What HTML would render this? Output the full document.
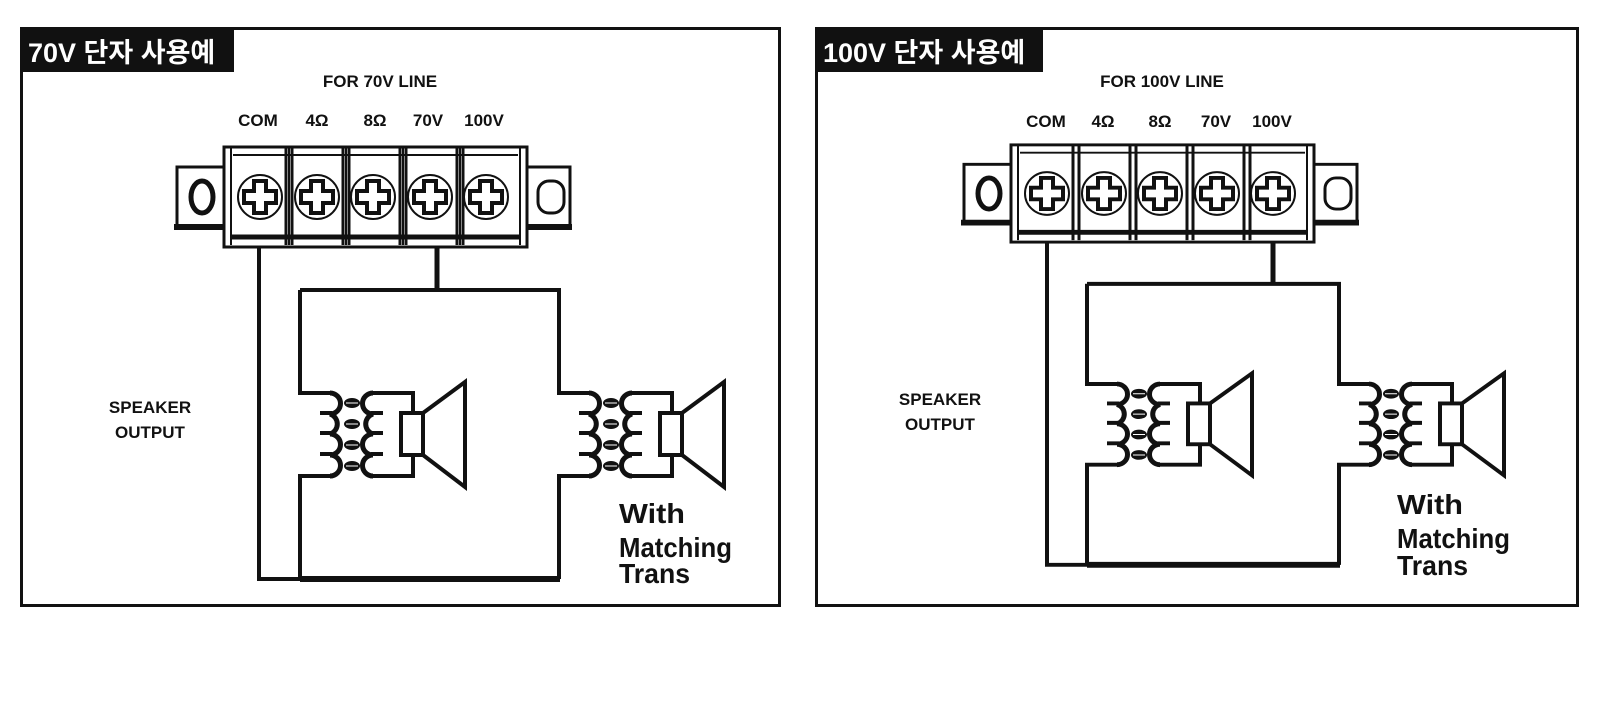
<!DOCTYPE html>
<html><head><meta charset="utf-8"><style>
html,body{margin:0;padding:0;background:#fff;}
svg{display:block;}
text{font-family:"Liberation Sans","Noto Sans CJK KR",sans-serif;font-weight:bold;fill:#111;}
</style></head><body>
<svg width="1603" height="703" viewBox="0 0 1603 703" xmlns="http://www.w3.org/2000/svg">
<defs>
<g id="spk" fill="none" stroke="#111" stroke-width="4">
  <!-- leads -->
  <path d="M0,0 V103 H30"/>
  <path d="M0,289 V186 H30"/>
  <!-- primary coil -->
  <path stroke-width="5" d="M30,103 A10.5,10.5 0 0 1 30,124 A10.5,10.5 0 0 1 30,144 A10.5,10.5 0 0 1 30,165 A10.5,10.5 0 0 1 30,186"/>
  <path d="M20,123 H32 M20,143 H32 M20,164 H32"/>
  <!-- secondary coil -->
  <path stroke-width="5" d="M73,103 A10.5,10.5 0 0 0 73,124 A10.5,10.5 0 0 0 73,144 A10.5,10.5 0 0 0 73,165 A10.5,10.5 0 0 0 73,186"/>
  <path d="M71,123 H83 M71,143 H83 M71,164 H83"/>
  <path d="M73,103 H113 V123 M73,186 H113 V165"/>
  <!-- core -->
  <g fill="#111" stroke="none">
    <ellipse cx="52" cy="113" rx="8" ry="5"/><ellipse cx="52" cy="134" rx="8" ry="5"/>
    <ellipse cx="52" cy="155" rx="8" ry="5"/><ellipse cx="52" cy="176" rx="8" ry="5"/>
  </g>
  <path stroke="#fff" stroke-width="1" d="M46,113 H58 M46,134 H58 M46,155 H58 M46,176 H58"/>
  <!-- speaker -->
  <rect x="101" y="123" width="22" height="42"/>
  <path d="M123,123 L165,92 V197 L123,165"/>
</g>
<g id="diag">
  <g fill="none" stroke="#111">
    <!-- tabs -->
    <rect x="177" y="167" width="47" height="60" stroke-width="3"/>
    <path d="M174,227 H226" stroke-width="6"/>
    <ellipse cx="202" cy="197" rx="11" ry="16" stroke-width="5"/>
    <rect x="527" y="167" width="43" height="60" stroke-width="3"/>
    <path d="M525,227 H572" stroke-width="6"/>
    <rect x="538" y="181" width="26" height="32" rx="11" stroke-width="3"/>
    <!-- block -->
    <rect x="224" y="147" width="303" height="100" stroke-width="3" fill="#fff"/>
    <path stroke-width="2" d="M231,147 V245 M289,147 V245 M346,147 V245 M403,147 V245 M460,147 V245 M520,147 V245
      M233,155 H518"/>
    <path stroke-width="3" d="M286,147 V245 M292,147 V245 M343,147 V245 M349,147 V245 M400,147 V245 M406,147 V245 M457,147 V245 M463,147 V245"/>
    <path stroke-width="5" d="M230,237 H521"/>
    <!-- wires -->
    <path stroke-width="4" d="M259,247 V579 H300"/>
    <path stroke-width="5" d="M437,247 V290"/>
    <path stroke-width="4" d="M300,290 H559 V393 M300,290 V393 M559,476 V579"/>
    <path stroke-width="6" d="M300,579 H560"/>
  </g>
  <g id="screws">
    <g transform="translate(260,197)"><circle r="22" fill="#fff" stroke="#111" stroke-width="2"/><path d="M-6,-16H6V-6H16V6H6V16H-6V6H-16V-6H-6Z" fill="#fff" stroke="#111" stroke-width="4"/></g>
    <g transform="translate(317,197)"><circle r="22" fill="#fff" stroke="#111" stroke-width="2"/><path d="M-6,-16H6V-6H16V6H6V16H-6V6H-16V-6H-6Z" fill="#fff" stroke="#111" stroke-width="4"/></g>
    <g transform="translate(373,197)"><circle r="22" fill="#fff" stroke="#111" stroke-width="2"/><path d="M-6,-16H6V-6H16V6H6V16H-6V6H-16V-6H-6Z" fill="#fff" stroke="#111" stroke-width="4"/></g>
    <g transform="translate(430,197)"><circle r="22" fill="#fff" stroke="#111" stroke-width="2"/><path d="M-6,-16H6V-6H16V6H6V16H-6V6H-16V-6H-6Z" fill="#fff" stroke="#111" stroke-width="4"/></g>
    <g transform="translate(486,197)"><circle r="22" fill="#fff" stroke="#111" stroke-width="2"/><path d="M-6,-16H6V-6H16V6H6V16H-6V6H-16V-6H-6Z" fill="#fff" stroke="#111" stroke-width="4"/></g>
  </g>
  <use href="#spk" transform="translate(300,290)"/>
  <use href="#spk" transform="translate(559,290)"/>
</g>
</defs>

<!-- Panel 1 -->
<rect x="21.5" y="28.5" width="758" height="577" fill="none" stroke="#111" stroke-width="3"/>
<rect x="20" y="27" width="214" height="45" fill="#111"/>
<text x="28" y="62" font-size="27" style="fill:#fff">70V 단자 사용예</text>
<use href="#diag"/>
<text x="380" y="87" font-size="17" text-anchor="middle">FOR 70V LINE</text>
<g font-size="17" text-anchor="middle">
<text x="258" y="126">COM</text><text x="317" y="126">4Ω</text><text x="375" y="126">8Ω</text><text x="428" y="126">70V</text><text x="484" y="126">100V</text>
<text x="150" y="413">SPEAKER</text><text x="150" y="438">OUTPUT</text>
</g>
<g font-size="28">
<text x="619" y="523" textLength="66" lengthAdjust="spacingAndGlyphs">With</text>
<text x="619" y="557" textLength="113" lengthAdjust="spacingAndGlyphs">Matching</text>
<text x="619" y="583" textLength="71" lengthAdjust="spacingAndGlyphs">Trans</text>
</g>

<!-- Panel 2 -->
<rect x="816.5" y="28.5" width="761" height="577" fill="none" stroke="#111" stroke-width="3"/>
<rect x="815" y="27" width="228" height="45" fill="#111"/>
<text x="823" y="62" font-size="27" style="fill:#fff">100V 단자 사용예</text>
<g transform="translate(787,2) scale(1,0.972)">
  <g fill="none" stroke="#111">
    <rect x="177" y="167" width="47" height="60" stroke-width="3"/>
    <path d="M174,227 H226" stroke-width="6"/>
    <ellipse cx="202" cy="197" rx="11" ry="16" stroke-width="5"/>
    <rect x="527" y="167" width="43" height="60" stroke-width="3"/>
    <path d="M525,227 H572" stroke-width="6"/>
    <rect x="538" y="181" width="26" height="32" rx="11" stroke-width="3"/>
    <rect x="224" y="147" width="303" height="100" stroke-width="3" fill="#fff"/>
    <path stroke-width="2" d="M231,147 V245 M520,147 V245 M233,155 H518"/>
    <path stroke-width="3" d="M286,147 V245 M292,147 V245 M343,147 V245 M349,147 V245 M400,147 V245 M406,147 V245 M457,147 V245 M463,147 V245"/>
    <path stroke-width="5" d="M230,237 H521"/>
    <path stroke-width="4" d="M260,247 V579 H300"/>
    <path stroke-width="5" d="M486,247 V290"/>
    <path stroke-width="4" d="M300,290 H552 V393 M300,290 V393 M552,476 V579"/>
    <path stroke-width="6" d="M300,579 H553"/>
  </g>
  <use href="#screws"/>
  <use href="#spk" transform="translate(300,290)"/>
  <use href="#spk" transform="translate(552,290)"/>
</g>
<text x="1162" y="87" font-size="17" text-anchor="middle">FOR 100V LINE</text>
<g font-size="17" text-anchor="middle">
<text x="1046" y="127">COM</text><text x="1103" y="127">4Ω</text><text x="1160" y="127">8Ω</text><text x="1216" y="127">70V</text><text x="1272" y="127">100V</text>
<text x="940" y="405">SPEAKER</text><text x="940" y="430">OUTPUT</text>
</g>
<g font-size="28">
<text x="1397" y="514" textLength="66" lengthAdjust="spacingAndGlyphs">With</text>
<text x="1397" y="548" textLength="113" lengthAdjust="spacingAndGlyphs">Matching</text>
<text x="1397" y="575" textLength="71" lengthAdjust="spacingAndGlyphs">Trans</text>
</g>
</svg>
</body></html>
